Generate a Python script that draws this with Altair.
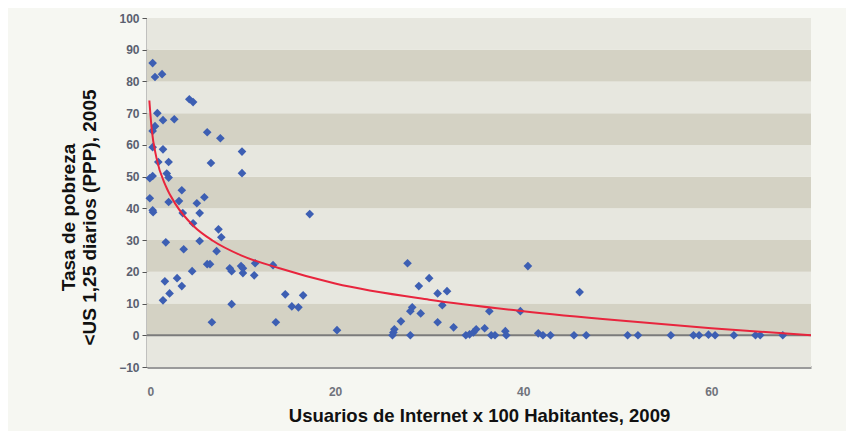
import altair as alt
import pandas as pd

# Usuarios de Internet x 100 habitantes (2009)
x_vals = [0.6, 0.85, 1.6, 4.5, 4.9, 1.1, 1.7, 2.9, 0.85, 0.6, 6.4, 7.8, 0.6, 1.7, 10.1,
          1.2, 2.3, 6.8, 10.1, 0.3, 0.6, 2.1, 2.3, 3.7, 0.3, 0.6, 0.65, 2.3, 3.4, 3.8,
          5.3, 6.1, 5.6, 4.9, 7.6, 7.9, 5.6, 2.0, 3.9, 7.4, 6.4, 6.7, 8.8, 9.0, 10.0,
          10.2, 10.2, 11.4, 11.5, 13.4, 4.8, 1.9, 3.2, 3.7, 2.4, 1.7, 9.0, 6.9, 13.7,
          17.3, 14.7, 16.6, 15.4, 16.1, 20.2, 27.7, 28.9, 30.0, 30.9, 31.9, 28.2, 28.0,
          31.4, 29.1, 27.0, 30.9, 26.3, 26.2, 26.1, 28.0, 32.6, 36.4, 39.7, 40.5, 46.0,
          33.9, 34.3, 34.7, 35.0, 35.9, 36.6, 37.0, 38.1, 38.2, 41.6, 42.1, 42.9, 45.4,
          46.7, 51.1, 52.2, 55.7, 58.1, 58.7, 59.7, 60.4, 62.4, 64.7, 65.2, 67.6]
# Tasa de pobreza < US 1,25 diarios (PPP), 2005
y_vals = [85.8, 81.4, 82.3, 74.4, 73.5, 70.0, 67.8, 68.1, 65.9, 64.4, 64.0, 62.1, 59.3, 58.6, 57.9,
          54.6, 54.6, 54.3, 51.1, 49.5, 50.2, 51.0, 49.7, 45.7, 43.2, 39.4, 38.8, 42.0, 42.3, 38.5,
          41.6, 43.5, 38.5, 35.3, 33.4, 30.9, 29.7, 29.3, 27.1, 26.5, 22.4, 22.4, 21.1, 20.2, 21.8,
          21.1, 19.6, 18.9, 22.7, 22.1, 20.2, 17.0, 18.0, 15.5, 13.2, 11.0, 9.8, 4.1, 4.1,
          38.2, 12.9, 12.6, 9.1, 8.8, 1.6, 22.7, 15.5, 18.0, 13.2, 13.9, 8.8, 7.6,
          9.5, 6.9, 4.4, 4.1, 1.9, 0.9, 0.0, 0.0, 2.5, 7.6, 7.6, 21.8, 13.6,
          0.0, 0.3, 0.9, 1.9, 2.2, 0.0, 0.0, 1.3, 0.0, 0.6, 0.0, 0.0, 0.0,
          0.0, 0.0, 0.0, 0.0, 0.0, 0.0, 0.2, 0.0, 0.0, 0.0, 0.0, 0.0]

# Trend curve (logarithmic fit)
curve_x = [0.25, 0.5, 1, 2, 3, 5, 7, 10, 14, 20, 30, 40, 50, 60, 70.6]
curve_y = [74.0, 65.0, 56.0, 47.0, 41.5, 34.3, 29.8, 25.2, 21.2, 16.3, 11.2, 7.6, 4.7, 2.2, 0.0]

band_lo = [-10, 0, 10, 20, 30, 40, 50, 60, 70, 80, 90]
band_hi = [0, 10, 20, 30, 40, 50, 60, 70, 80, 90, 100]
band_shade = ["light", "dark", "light", "dark", "light", "dark",
              "light", "dark", "light", "dark", "light"]

y_ticks = [-10, 0, 10, 20, 30, 40, 50, 60, 70, 80, 90, 100]
x_ticks = [0, 20, 40, 60]
x_domain = [0, 70.6]
y_domain = [-10, 100]

x_title = "Usuarios de Internet x 100 Habitantes, 2009"
y_title = ["Tasa de pobreza", "<US 1,25 diarios (PPP), 2005"]

W, H = 664, 349
FONT = "Liberation Sans"

pts = pd.DataFrame({"x": x_vals, "y": y_vals})
curve = pd.DataFrame({"x": curve_x, "y": curve_y})
bands = pd.DataFrame({"lo": band_lo, "hi": band_hi, "shade": band_shade})

xscale = alt.Scale(domain=x_domain, nice=False, zero=False)
yscale = alt.Scale(domain=y_domain, nice=False, zero=False)

x_axis = alt.Axis(values=x_ticks, title=x_title, grid=False, ticks=False,
                  domainColor="#9a9a9a", domainWidth=3,
                  labelFont=FONT, labelFontSize=12, labelFontWeight="bold",
                  labelColor="#70737c", labelPadding=19,
                  titleFont=FONT, titleFontSize=18.5, titleFontWeight="bold",
                  titleColor="#111111", titlePadding=9)
y_axis = alt.Axis(values=y_ticks, title=y_title, grid=False,
                  domainColor="#8a8a8a", domainWidth=2,
                  tickColor="#555555", tickSize=5, tickWidth=1,
                  labelFont=FONT, labelFontSize=12, labelFontWeight="bold",
                  labelColor="#5a6070", labelPadding=3,
                  titleFont=FONT, titleFontSize=19, titleFontWeight="bold",
                  titleColor="#111111", titlePadding=19, titleLineHeight=21,
                  titleY=199)

band_layer = alt.Chart(bands).mark_rect().encode(
    x=alt.value(0), x2=alt.value(W),
    y=alt.Y("lo:Q", scale=yscale, axis=y_axis),
    y2="hi:Q",
    color=alt.Color("shade:N", legend=None,
                    scale=alt.Scale(domain=["light", "dark"], range=["#e7e7df", "#d4d2c4"])),
)

zero_layer = alt.Chart(pd.DataFrame({"z": [0]})).mark_rule(color="#7b7b7b", strokeWidth=2).encode(
    x=alt.value(0), x2=alt.value(W),
    y=alt.Y("z:Q", scale=yscale, axis=y_axis),
)

pt_layer = alt.Chart(pts).mark_point(shape="diamond", filled=True, opacity=1,
                                     color="#3d5fb3", size=75).encode(
    x=alt.X("x:Q", scale=xscale, axis=x_axis),
    y=alt.Y("y:Q", scale=yscale, axis=y_axis),
)

fit_layer = alt.Chart(curve).mark_line(color="#e8253d", strokeWidth=2,
                                       interpolate="monotone").encode(
    x=alt.X("x:Q", scale=xscale, axis=x_axis),
    y=alt.Y("y:Q", scale=yscale, axis=y_axis),
)

chart = alt.layer(band_layer, zero_layer, pt_layer, fit_layer).properties(
    width=W, height=H,
    background="#f6f7f2",
    autosize=alt.AutoSizeParams(type="none"),
    padding={"left": 139, "top": 10, "right": 35, "bottom": 64},
).configure_view(stroke=None)

chart.save("out.html", embed_options={"renderer": "svg", "actions": False})
